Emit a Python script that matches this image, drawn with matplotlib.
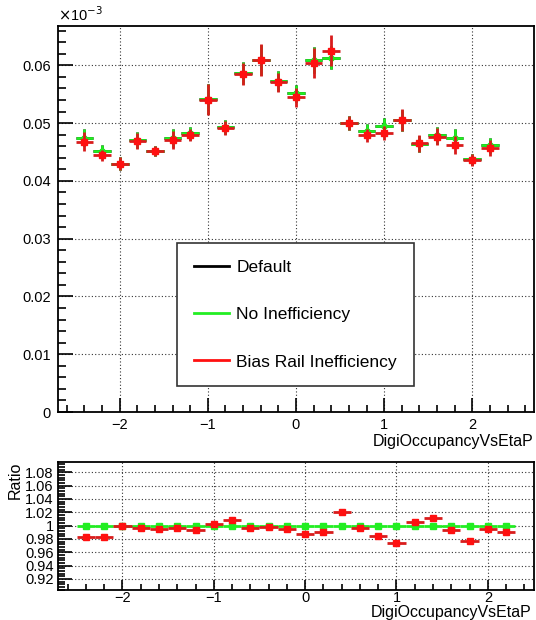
import matplotlib
matplotlib.use('Agg')
import matplotlib.pyplot as plt
from matplotlib.lines import Line2D
from matplotlib.ticker import MultipleLocator, FuncFormatter
import numpy as np

plt.rcParams['font.family'] = ['Liberation Sans', 'DejaVu Sans']

# bin centres (eta)
eta = [-2.4, -2.2, -2.0, -1.8, -1.6, -1.4, -1.2, -1.0, -0.8, -0.6, -0.4, -0.2,
       0.0, 0.2, 0.4, 0.6, 0.8, 1.0, 1.2, 1.4, 1.6, 1.8, 2.0, 2.2]
bin_half = 0.1

# Default / No Inefficiency (identical)
no_ineff = [0.04746, 0.04516, 0.04300, 0.04710, 0.04520, 0.04740, 0.04820, 0.05410,
            0.04930, 0.05860, 0.06090, 0.05730, 0.05513, 0.06090, 0.06130, 0.05000,
            0.04862, 0.04954, 0.05050, 0.04640, 0.04787, 0.04735, 0.04370, 0.04620]
no_ineff_err = [0.0015, 0.0010, 0.0011, 0.0014, 0.0009, 0.0015, 0.0011, 0.0026,
                0.0012, 0.0019, 0.0026, 0.0017, 0.0015, 0.0023, 0.0020, 0.0012,
                0.0012, 0.0014, 0.0018, 0.0014, 0.0015, 0.0017, 0.0010, 0.0013]
default = list(no_ineff)
default_err = list(no_ineff_err)

bias_rail = [0.04677, 0.04441, 0.04296, 0.04694, 0.04516, 0.04706, 0.04792, 0.05404,
             0.04913, 0.05842, 0.06090, 0.05704, 0.05444, 0.06045, 0.06250, 0.04994,
             0.04786, 0.04821, 0.05052, 0.04648, 0.04763, 0.04620, 0.04360, 0.04562]
bias_rail_err = [0.0016, 0.0009, 0.0011, 0.0014, 0.0009, 0.0015, 0.0011, 0.0027,
                 0.0012, 0.0019, 0.0027, 0.0017, 0.0017, 0.0026, 0.0027, 0.0012,
                 0.0012, 0.0012, 0.0019, 0.0014, 0.0015, 0.0015, 0.0010, 0.0014]

# ratio to Default
ratio_green = [1.0] * len(eta)
ratio_red = [0.983, 0.983, 1.000, 0.996, 0.995, 0.997, 0.994, 1.003, 1.008, 0.997,
             0.998, 0.995, 0.988, 0.991, 1.0206, 0.997, 0.984, 0.974, 1.005, 1.011,
             0.994, 0.977, 0.995, 0.990]

RED = '#ff1010'
RED_E = '#d81c1c'
GREEN = '#22ee22'

fig = plt.figure(figsize=(5.36, 6.20), dpi=100)
W, H = 536, 620


def px_axes(l, t, r, b):
    return fig.add_axes([l / W, 1 - b / H, (r - l) / W, (b - t) / H])


ax = px_axes(58, 26, 534, 412)
rax = px_axes(58, 462, 534, 590)

grid_kw = dict(color='#333333', linestyle=(0, (1, 2)), linewidth=0.8)
signed = FuncFormatter(lambda v, p: ('\u2212%g' % -v) if v < 0 else '%g' % v)

# ---- top panel
ax.errorbar(eta, default, xerr=bin_half, yerr=default_err, fmt='s', ms=0,
            color='black', elinewidth=2, capsize=0, zorder=3)
ax.errorbar(eta, no_ineff, xerr=bin_half, yerr=no_ineff_err, fmt='s', ms=3,
            color=GREEN, ecolor=GREEN, elinewidth=2, capsize=0, zorder=4)
ax.errorbar(eta, bias_rail, xerr=bin_half, yerr=bias_rail_err, fmt='s', ms=4.5,
            color=RED, ecolor=RED_E, elinewidth=2, capsize=0, zorder=5)

ax.set_xlim(-2.7, 2.7)
ax.set_ylim(0, 0.0668)
ax.yaxis.set_major_locator(MultipleLocator(0.01))
ax.yaxis.set_minor_locator(MultipleLocator(0.002))
ax.xaxis.set_major_locator(MultipleLocator(1))
ax.xaxis.set_minor_locator(MultipleLocator(0.2))
ax.yaxis.set_major_formatter(FuncFormatter(lambda v, p: '0' if abs(v) < 1e-9 else '%g' % v))
ax.xaxis.set_major_formatter(signed)
ax.grid(True, which='major', **grid_kw)
ax.set_axisbelow(True)
ax.tick_params(axis='both', which='both', direction='in', top=False, right=False,
               labelsize=10.5, width=1.2)
ax.tick_params(axis='y', which='major', length=11, pad=5)
ax.tick_params(axis='y', which='minor', length=6)
ax.tick_params(axis='x', which='major', length=10, pad=4)
ax.tick_params(axis='x', which='minor', length=5)
for s in ax.spines.values():
    s.set_linewidth(1.3)
ax.set_xlabel('DigiOccupancyVsEtaP', fontsize=11.5, loc='right', labelpad=2)
fig.text(58 / W, 1 - 15 / H, r'$\times$10$^{-3}$', fontsize=10.5, ha='left', va='center')

handles = [Line2D([], [], color='black', lw=2),
           Line2D([], [], color=GREEN, lw=2),
           Line2D([], [], color=RED, lw=2)]
leg = ax.legend(handles, ['Default', 'No Inefficiency', 'Bias Rail Inefficiency'],
                loc='upper left', bbox_to_anchor=((177 - 58) / 476, (412 - 243) / 386),
                fontsize=12.5, frameon=True, fancybox=False, framealpha=1,
                edgecolor='#333333', handlelength=2.0, handletextpad=0.45,
                labelspacing=1.85, borderpad=0.97, borderaxespad=0)
leg.get_frame().set_linewidth(1.2)

# ---- ratio panel
rax.errorbar(eta, ratio_green, xerr=bin_half, yerr=0, fmt='s', ms=4,
             color=GREEN, elinewidth=2, capsize=0, zorder=4)
rax.errorbar(eta, ratio_red, xerr=bin_half, yerr=0, fmt='s', ms=4.5,
             color=RED, ecolor=RED_E, elinewidth=2, capsize=0, zorder=5)
rax.set_xlim(-2.705, 2.505)
rax.set_ylim(0.9035, 1.0955)
rax.yaxis.set_major_locator(MultipleLocator(0.02))
rax.yaxis.set_minor_locator(MultipleLocator(0.004))
rax.xaxis.set_major_locator(MultipleLocator(1))
rax.xaxis.set_minor_locator(MultipleLocator(0.2))
rax.yaxis.set_major_formatter(FuncFormatter(lambda v, p: '%g' % round(v, 3)))
rax.xaxis.set_major_formatter(signed)
rax.grid(True, which='major', **grid_kw)
rax.set_axisbelow(True)
rax.tick_params(axis='both', which='both', direction='in', top=False, right=False,
                labelsize=10.5, width=1.2)
rax.tick_params(axis='y', which='major', length=10, pad=3)
rax.tick_params(axis='y', which='minor', length=5)
rax.tick_params(axis='x', which='major', length=7, pad=1)
rax.tick_params(axis='x', which='minor', length=4)
for s in rax.spines.values():
    s.set_linewidth(1.3)
fig.text(531 / W, 1 - 612 / H, 'DigiOccupancyVsEtaP', fontsize=11.5,
         ha='right', va='center')
rax.set_ylabel('Ratio', fontsize=11.5, loc='top', labelpad=2)

fig.savefig('out.png', dpi=100)
